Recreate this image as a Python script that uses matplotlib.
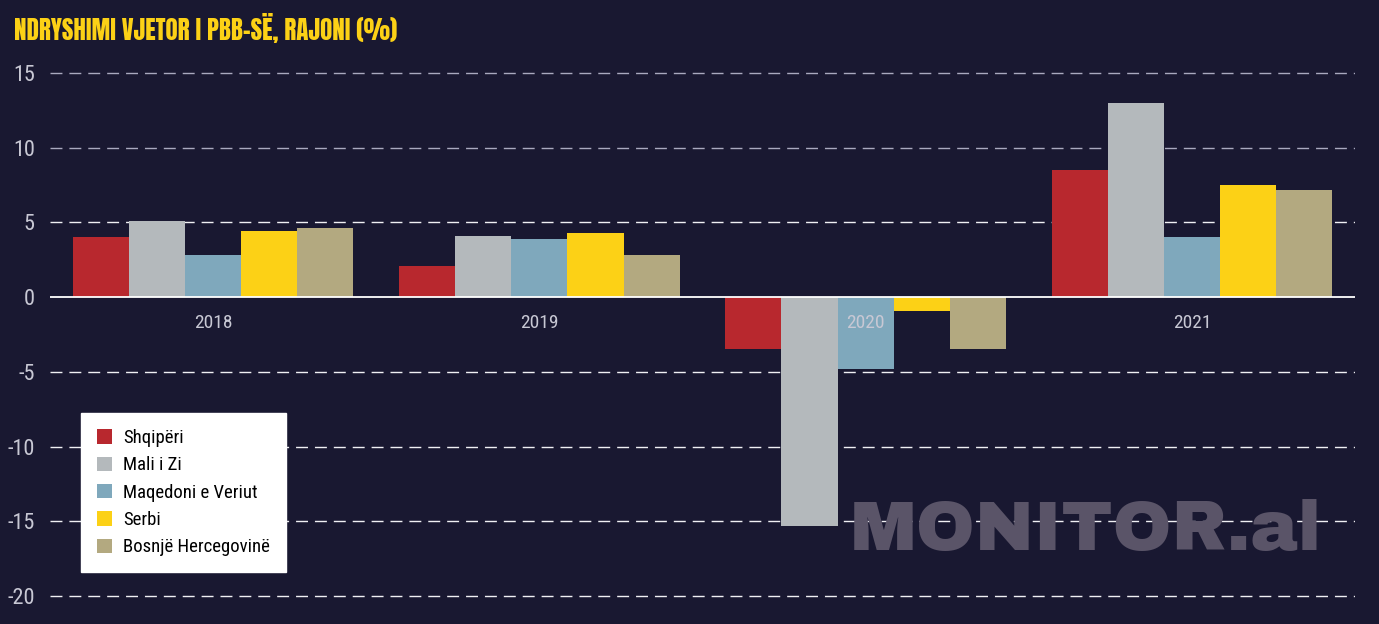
import numpy as np
import matplotlib.pyplot as plt
from matplotlib import font_manager

# Të dhënat
vitet = ["2018", "2019", "2020", "2021"]
vendet = ["Shqipëri", "Mali i Zi", "Maqedoni e Veriut", "Serbi", "Bosnjë Hercegovinë"]
shqiperi = [4.0, 2.1, -3.5, 8.5]
mali_i_zi = [5.1, 4.1, -15.3, 13.0]
maqedoni = [2.8, 3.9, -4.8, 4.0]
serbi = [4.4, 4.3, -0.9, 7.5]
bosnje = [4.6, 2.8, -3.5, 7.2]
yticks = [15, 10, 5, 0, -5, -10, -15, -20]

seri = [shqiperi, mali_i_zi, maqedoni, serbi, bosnje]
ngjyrat = ["#b8282e", "#b4b9bc", "#7fa8bc", "#fcd116", "#b3a980"]
bg = "#191831"

names = {f.name for f in font_manager.fontManager.ttflist}


def zgjidh(*kandidatet):
    for k in kandidatet:
        if k in names:
            return k
    return "DejaVu Sans"


f_tekst = zgjidh("Roboto Condensed", "PT Sans Narrow", "Open Sans Condensed")
f_titull = zgjidh("Anton", "Oswald", "Roboto Condensed")
f_logo = zgjidh("Archivo Black", "Liberation Sans")
plt.rcParams["font.family"] = [f_tekst, "DejaVu Sans"]

fig = plt.figure(figsize=(13.79, 6.24), dpi=100, facecolor=bg)
ax = fig.add_axes([50 / 1379, 0.0329, 1305 / 1379, 0.874])
ax.set_facecolor(bg)

x = np.arange(len(vitet))
w = 0.172
for i, (vals, c, emri) in enumerate(zip(seri, ngjyrat, vendet)):
    ax.bar(x + (i - 2) * w, vals, w, color=c, label=emri, zorder=3)

ax.set_xlim(-0.5, 3.5)
ax.set_ylim(-20.5, 16)
ax.set_yticks(yticks)
ax.set_yticklabels([str(v) for v in yticks], color="#c8c8d4", fontsize=16)
ax.tick_params(axis="y", length=0, pad=11)
ax.set_xticks([])
for s in ax.spines.values():
    s.set_visible(False)

# vijat e rrjetës me viza
for v in yticks:
    if v == 0:
        continue
    ngj = "#a9a9bf" if v > 5 else "#f0f0f4"
    ax.axhline(v, color=ngj, lw=1.0, dashes=(8.6, 5), zorder=2)
ax.axhline(0, color="white", lw=1.3, zorder=4)

# emrat e viteve poshtë vijës zero
for xi, lab in zip(x, vitet):
    ax.text(xi, -1.75, lab, ha="center", va="center", color="#c8c8d4",
            fontsize=14, zorder=5)

fig.text(14 / 1379, 1 - 28 / 624, "NDRYSHIMI VJETOR I PBB-SË, RAJONI (%)",
         color="#fcd116", fontsize=18, family=[f_titull, "DejaVu Sans"],
         va="center", ha="left")

fig.text(1322 / 1379, (624 - 550) / 624, "MONITOR.al", color="#5a5468",
         fontsize=51, family=[f_logo, "DejaVu Sans"],
         va="baseline", ha="right", zorder=1)

leg = ax.legend(loc="upper left", bbox_to_anchor=(81 / 1379, 1 - 413 / 624),
                bbox_transform=fig.transFigure, borderaxespad=0, fancybox=False,
                framealpha=1, facecolor="white", edgecolor="white",
                fontsize=13.5, handlelength=0.8, handleheight=0.8,
                handletextpad=0.6, labelspacing=0.5, borderpad=0.85)
leg.set_zorder(6)

fig.savefig("out.png", dpi=100, facecolor=bg)
